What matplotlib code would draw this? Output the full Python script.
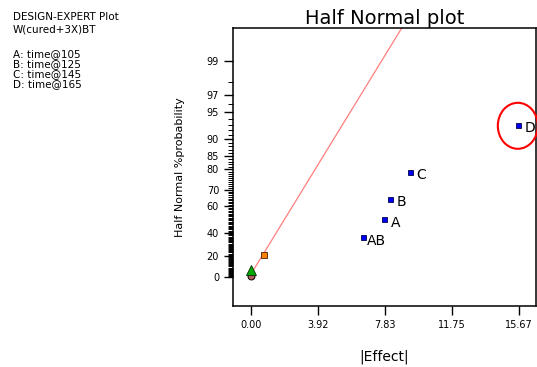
import math
from statistics import NormalDist

import matplotlib
matplotlib.use("Agg")
import matplotlib.pyplot as plt
import numpy as np
from matplotlib.patches import Ellipse
from matplotlib.transforms import ScaledTranslation

# ---- data ----
factor_names = ["A", "B", "C", "D", "AB"]
factor_effect = [7.79, 8.14, 9.30, 15.60, 6.56]
factor_prob = [50.8, 64.7, 79.0, 93.0, 36.4]

# error estimates near zero
err_sq_effect = [0.76]
err_sq_prob = [21.0]
err_tri_effect = [0.02]
err_tri_prob = [6.8]
err_circ_effect = [0.0]
err_circ_prob = [0.8]

# fitted half-normal line
fit_effect = [0.19, 9.2]
fit_prob = [7.4, 99.8]

x_ticks = [0.00, 3.92, 7.83, 11.75, 15.67]
y_ticks = [0, 20, 40, 60, 70, 80, 85, 90, 95, 97, 99]
y_minor = [p for p in range(1, 99) if p not in y_ticks]

header_lines = ["DESIGN-EXPERT Plot", "W(cured+3X)BT", "",
                "A: time@105", "B: time@125", "C: time@145", "D: time@165"]

# ---- half normal probability scale ----
_nd = NormalDist()


def prob_to_z(p):
    p = np.asarray(p, dtype=float)
    q = np.clip((1 + p / 100.0) / 2.0, 1e-9, 1 - 1e-9)
    return np.vectorize(_nd.inv_cdf)(q)


def z_to_prob(z):
    z = np.asarray(z, dtype=float)
    return np.vectorize(lambda v: math.erf(v / math.sqrt(2)) * 100.0)(z)


plt.rcParams["font.family"] = "DejaVu Sans"

fig = plt.figure(figsize=(5.37, 3.67), dpi=100)
ax = fig.add_axes([0.4339, 0.1662, 0.5642, 0.7575])
ax.set_yscale("function", functions=(prob_to_z, z_to_prob))

# fit line
ax.plot(fit_effect, fit_prob, color="#ff7f7f", lw=0.9, zorder=2)

# points
ax.plot(err_circ_effect, err_circ_prob, "o", ms=5, mfc="#b45c5c", mec="black",
        mew=0.7, zorder=3)
ax.plot(err_tri_effect, err_tri_prob, "^", ms=6.5, mfc="#00a800", mec="#003000",
        mew=0.6, zorder=4)
ax.plot(err_sq_effect, err_sq_prob, "s", ms=4, mfc="#ff8000", mec="#402000",
        mew=0.6, zorder=4)
ax.plot(factor_effect, factor_prob, "s", ms=3.6, mfc="#0000f0", mec="#000050",
        mew=0.6, linestyle="none", zorder=4)

for name, xv, yv in zip(factor_names, factor_effect, factor_prob):
    dx = 2.5 if len(name) > 1 else 4.8
    ax.annotate(name, (xv, yv), xytext=(dx, -2.5), textcoords="offset points",
                ha="left", va="center", fontsize=10)

# red ellipse round D
d_idx = factor_names.index("D")
ell_tr = fig.dpi_scale_trans + ScaledTranslation(
    factor_effect[d_idx], factor_prob[d_idx], ax.transData)
ax.add_patch(Ellipse((0, -0.01), 0.40, 0.46, transform=ell_tr, fill=False,
                     edgecolor="red", lw=1.5, clip_on=False, zorder=5))

# axes
ax.set_xlim(-1.034, 16.66)
ax.set_ylim(z_to_prob(-0.345), z_to_prob(2.964))
ax.set_xticks(x_ticks)
ax.set_xticklabels([f"{v:.2f}" for v in x_ticks])
ax.set_yticks(y_ticks)
ax.set_yticklabels([str(v) for v in y_ticks])
ax.set_yticks(y_minor, minor=True)
ax.tick_params(axis="both", which="major", direction="out", length=6.5,
               width=1.0, labelsize=7, pad=3.5)
ax.tick_params(axis="y", which="minor", direction="out", length=3.5, width=0.7)
ax.tick_params(axis="x", which="minor", length=0)
for sp in ax.spines.values():
    sp.set_linewidth(1.1)

ax.set_title("Half Normal plot", fontsize=14, pad=2)
ax.set_xlabel("|Effect|", fontsize=10, labelpad=14)
ax.set_ylabel("Half Normal %probability", fontsize=8, labelpad=16)

# header text on the left
y_px = [20, 32, 44, 57, 67.5, 77.5, 87.5]
for line, yp in zip(header_lines, y_px):
    if line:
        fig.text(13 / 537, 1 - yp / 367, line, fontsize=7.5, va="baseline",
                 ha="left")

fig.savefig("out.png", dpi=100)
